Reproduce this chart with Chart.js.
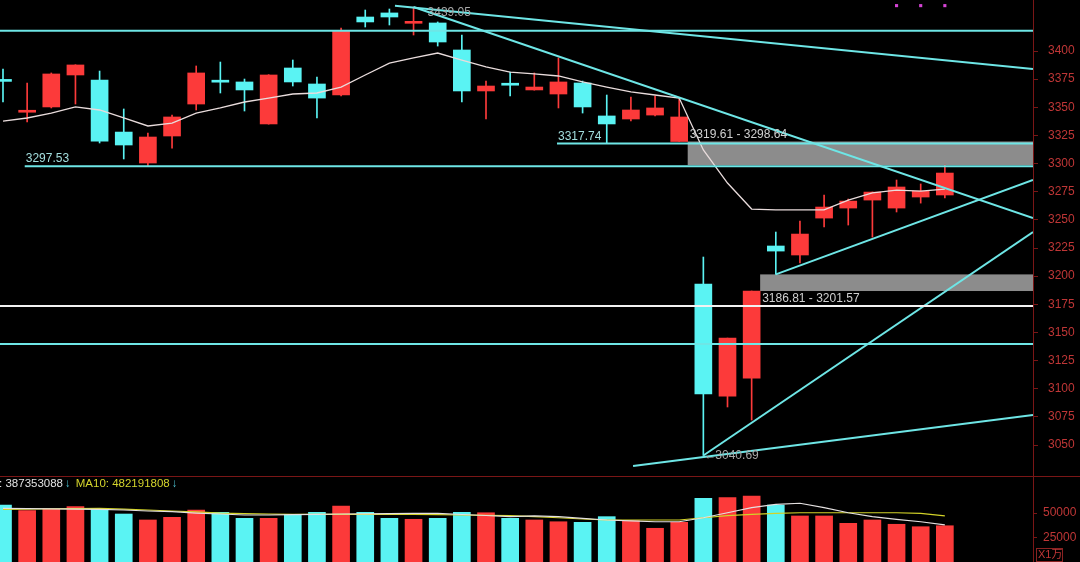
<!DOCTYPE html>
<html>
<head>
<meta charset="utf-8">
<script src="https://cdn.jsdelivr.net/npm/chart.js@4.4.1/dist/chart.umd.min.js"></script>
<style>
  html, body { margin: 0; padding: 0; background: #000; }
  #wrap { width: 1080px; height: 562px; position: relative; }
</style>
</head>
<body>
<div id="wrap"><canvas id="grafico"></canvas></div>
<script>
// ===== DADOS =====
const opens  = [3373.6, 3345.6, 3350.3, 3378.7, 3374.2, 3328.0, 3300.5, 3324.5, 3352.9, 3372.8,
                3372.5, 3335.2, 3384.9, 3370.7, 3360.9, 3430.2, 3433.8, 3424.6, 3424.9, 3400.9,
                3364.5, 3370.0, 3365.4, 3361.8, 3371.6, 3342.3, 3339.6, 3343.1, 3319.61, 3193.0,
                3093.5, 3109.5, 3226.8, 3218.8, 3251.6, 3260.5, 3267.6, 3260.5, 3270.3, 3272.1];
const highs  = [3384.0, 3371.6, 3380.5, 3387.8, 3382.2, 3348.5, 3327.2, 3343.1, 3386.7, 3390.2,
                3375.1, 3379.0, 3392.0, 3376.9, 3420.4, 3436.4, 3437.3, 3439.05, 3425.8, 3414.2,
                3373.3, 3381.3, 3380.5, 3393.8, 3373.3, 3360.9, 3359.1, 3360.0, 3357.4, 3217.0,
                3145.0, 3186.81, 3239.2, 3249.0, 3272.1, 3268.5, 3274.7, 3285.4, 3281.9, 3298.7];
const lows   = [3354.7, 3336.9, 3349.4, 3352.9, 3318.3, 3304.1, 3297.53, 3313.8, 3347.6, 3362.7,
                3346.7, 3335.0, 3368.9, 3340.5, 3360.0, 3421.3, 3423.1, 3414.2, 3404.4, 3354.7,
                3339.6, 3360.0, 3365.2, 3349.4, 3344.9, 3317.74, 3337.8, 3342.3, 3319.61, 3040.69,
                3083.8, 3072.2, 3201.57, 3211.7, 3243.7, 3245.4, 3234.7, 3257.0, 3264.9, 3269.4];
const closes = [3373.0, 3346.0, 3379.6, 3387.6, 3320.0, 3316.5, 3323.6, 3341.4, 3380.5, 3372.3,
                3365.4, 3378.7, 3372.5, 3358.2, 3417.8, 3425.8, 3430.2, 3425.1, 3408.0, 3364.5,
                3368.9, 3369.6, 3368.0, 3372.5, 3350.3, 3335.2, 3347.6, 3349.4, 3341.4, 3095.3,
                3145.0, 3186.81, 3222.3, 3237.4, 3261.4, 3266.7, 3274.7, 3279.2, 3275.6, 3291.6];
const priceMa = [3337.8, 3340.5, 3344.9, 3350.3, 3347.6, 3340.5, 3333.4, 3336.0, 3344.9, 3349.4,
                 3354.7, 3358.2, 3361.8, 3362.7, 3368.0, 3378.7, 3389.3, 3393.8, 3398.2, 3392.0,
                 3385.8, 3381.3, 3379.6, 3377.8, 3372.5, 3368.0, 3363.6, 3360.9, 3358.2, 3312.1,
                 3282.7, 3259.6, 3258.8, 3258.8, 3258.8, 3267.6, 3273.9, 3276.5, 3275.6, 3277.4];

const volumes = [58300, 52500, 54200, 56600, 55000, 49100, 43000, 45700, 53200, 50900,
                 44700, 44700, 48800, 50900, 57300, 50900, 44700, 43700, 44700, 50900,
                 50400, 44700, 43000, 41200, 40600, 46400, 42300, 34500, 40600, 65200,
                 65800, 67500, 58300, 47100, 47100, 39600, 43000, 38600, 36100, 37100];
const volMa5  = [54900, 54700, 54400, 54200, 53900, 53200, 52200, 51500, 50100, 49100,
                 48100, 48100, 48400, 48800, 49100, 49300, 49500, 49700, 49800, 48600,
                 47600, 46400, 47100, 46400, 44700, 43000, 42000, 41200, 41200, 45300,
                 50400, 55600, 59000, 60100, 55600, 50400, 46400, 43700, 41200, 37900];
const volMa10 = [53900, 54200, 54500, 54700, 54900, 54200, 53200, 52200, 51200, 50100,
                 49600, 49100, 48800, 48800, 48800, 48800, 48800, 48800, 48500, 48100,
                 47800, 47400, 46400, 45300, 44000, 43000, 43000, 43000, 43000, 45300,
                 47400, 48800, 49800, 50400, 50400, 50400, 50400, 50400, 49800, 47100];

const priceTicks = [3050, 3075, 3100, 3125, 3150, 3175, 3200, 3225, 3250, 3275, 3300, 3325, 3350, 3375, 3400];
const volTicks = [25000, 50000];

// linhas horizontais e de tendência (índice do candle, preço)
const fullCyanLevels = [3418.0, 3139.7];
const whiteLevel = 3173.5;
const markedLevels = [3297.53, 3317.74];
const markedFrom = [0.9, 22.94];
const trendLines = [
  [16.23, 3440.2, 42.65, 3384.0],
  [17, 3439.05, 42.65, 3251.6],
  [32, 3201.57, 42.65, 3285.4],
  [29, 3040.69, 42.65, 3239.2],
  [26.09, 3031.3, 42.65, 3076.6]
];
// gaps: candle onde começa, fundo, topo
const gapFrom = [28, 31];
const gapLow  = [3298.64, 3186.81];
const gapHigh = [3319.61, 3201.57];
const signalIdx = [37, 38, 39];
const signalLevel = 3440.3;

const volLegendMa5 = "MA5: 387353088";
const volLegendMa10 = "MA10: 482191808";

// ===== ESTILO =====
const RED = "#fc3a3a";
const CYAN = "#5af3f3";
const LINE_CYAN = "#6ee6e6";
const AXIS_RED = "#7a1616";
const LABEL_RED = "#bf3636";
const BODY = 17;
const FONT = "'Liberation Sans', 'Noto Sans CJK SC', sans-serif";

Chart.defaults.font.family = FONT;

const cores = opens.map((o, i) => closes[i] >= o ? RED : CYAN);

function segmento(x0, y0, x1, y1, color) {
  return {
    type: "line",
    data: [{ x: x0, y: y0 }, { x: x1, y: y1 }],
    borderColor: color,
    borderWidth: 2,
    pointRadius: 0,
    tension: 0,
    yAxisID: "y",
    order: 0,
  };
}

const datasets = [];

// velas
datasets.push({
  type: "bar",
  data: opens.map((o, i) => ({ x: i, y: [lows[i], highs[i]] })),
  backgroundColor: cores,
  barThickness: 1,
  grouped: false,
  yAxisID: "y",
  order: 5,
});
datasets.push({
  type: "bar",
  data: opens.map((o, i) => ({ x: i, y: [o, closes[i]] })),
  backgroundColor: cores,
  barThickness: BODY,
  minBarLength: 2,
  grouped: false,
  yAxisID: "y",
  order: 4,
});
datasets.push({
  type: "line",
  data: priceMa.map((v, i) => ({ x: i, y: v })),
  borderColor: "#e9dcdc",
  borderWidth: 1.3,
  pointRadius: 0,
  tension: 0,
  yAxisID: "y",
  order: 1,
});

// linhas desenhadas
fullCyanLevels.forEach(v => datasets.push(segmento(-1, v, 44, v, LINE_CYAN)));
datasets.push(segmento(-1, whiteLevel, 44, whiteLevel, "#f2f2f2"));
markedLevels.forEach((v, k) => datasets.push(segmento(markedFrom[k], v, 44, v, LINE_CYAN)));
trendLines.forEach(t => datasets.push(segmento(t[0], t[1], t[2], t[3], LINE_CYAN)));

datasets.push({
  type: "scatter",
  data: signalIdx.map(i => ({ x: i, y: signalLevel })),
  backgroundColor: "#d444d4",
  borderWidth: 0,
  pointStyle: "rect",
  pointRadius: 2.2,
  yAxisID: "y",
  order: 0,
});

// volume
datasets.push({
  type: "bar",
  data: volumes.map((v, i) => ({ x: i, y: v })),
  backgroundColor: cores,
  barThickness: BODY,
  grouped: false,
  yAxisID: "yv",
  order: 6,
});
datasets.push({
  type: "line",
  data: volMa5.map((v, i) => ({ x: i, y: v })),
  borderColor: "#e4e0e0",
  borderWidth: 1.2,
  pointRadius: 0,
  yAxisID: "yv",
  order: 2,
});
datasets.push({
  type: "line",
  data: volMa10.map((v, i) => ({ x: i, y: v })),
  borderColor: "#d2d228",
  borderWidth: 1.2,
  pointRadius: 0,
  yAxisID: "yv",
  order: 2,
});

// ===== PLUGIN DE ANOTAÇÕES =====
const anotacoes = {
  id: "anotacoes",
  beforeDatasetsDraw(chart) {
    const { ctx, chartArea, scales: { x, y } } = chart;
    ctx.save();
    ctx.fillStyle = "#8c8c8c";
    gapFrom.forEach((idx, k) => {
      const left = x.getPixelForValue(idx) + BODY / 2;
      const top = y.getPixelForValue(gapHigh[k]);
      const bottom = y.getPixelForValue(gapLow[k]);
      ctx.fillRect(left, top, chartArea.right - left, bottom - top);
    });
    ctx.restore();
  },
  afterDatasetsDraw(chart) {
    const { ctx, scales: { x, y, yv } } = chart;
    ctx.save();
    ctx.font = "12px " + FONT;
    ctx.textBaseline = "middle";
    ctx.textAlign = "left";

    // rótulos das linhas
    ctx.fillStyle = "#a3dede";
    ctx.fillText(markedLevels[0].toFixed(2), x.getPixelForValue(markedFrom[0]) + 1, y.getPixelForValue(markedLevels[0]) - 8);
    ctx.fillText(markedLevels[1].toFixed(2), x.getPixelForValue(markedFrom[1]) + 1, y.getPixelForValue(markedLevels[1]) - 7);

    ctx.fillStyle = "#d0d0d0";
    ctx.fillText(gapHigh[0].toFixed(2) + " - " + gapLow[0].toFixed(2),
      x.getPixelForValue(gapFrom[0]) + BODY / 2 + 2, y.getPixelForValue(gapHigh[0]) - 7);
    ctx.fillText(gapLow[1].toFixed(2) + " - " + gapHigh[1].toFixed(2),
      x.getPixelForValue(gapFrom[1]) + BODY / 2 + 2, y.getPixelForValue(gapLow[1]) + 8);

    ctx.fillStyle = "#a8a8a8";
    const topo = highs.indexOf(Math.max(...highs));
    ctx.fillText(highs[topo].toFixed(2), x.getPixelForValue(topo) + 14, y.getPixelForValue(highs[topo]) + 6);
    const fundo = lows.indexOf(Math.min(...lows));
    const fx = x.getPixelForValue(fundo), fy = y.getPixelForValue(lows[fundo]);
    ctx.fillText("\u2190", fx + 1, fy);
    ctx.fillText(lows[fundo].toFixed(2), fx + 12, fy);

    // divisória entre preço e volume
    ctx.strokeStyle = AXIS_RED;
    ctx.lineWidth = 1;
    ctx.beginPath();
    ctx.moveTo(0, yv.top + 0.5);
    ctx.lineTo(chart.width, yv.top + 0.5);
    ctx.stroke();

    // legenda do volume
    ctx.font = "11.5px " + FONT;
    const ly = yv.top + 8;
    let lx = 63 - ctx.measureText(volLegendMa5).width;
    ctx.fillStyle = "#e2e2e2";
    ctx.fillText(volLegendMa5, lx, ly);
    lx += ctx.measureText(volLegendMa5).width + 2;
    ctx.fillStyle = "#4fc8d8";
    ctx.fillText("\u2193", lx, ly);
    lx += ctx.measureText("\u2193").width + 5;
    ctx.fillStyle = "#d4d42c";
    ctx.fillText(volLegendMa10, lx, ly);
    lx += ctx.measureText(volLegendMa10).width + 2;
    ctx.fillStyle = "#4fc8d8";
    ctx.fillText("\u2193", lx, ly);

    // caixa da unidade
    const bx = yv.left + 3, by = yv.bottom - 14;
    ctx.strokeStyle = "#8a2222";
    ctx.strokeRect(bx + 0.5, by + 0.5, 26, 13);
    ctx.fillStyle = LABEL_RED;
    ctx.font = "11px " + FONT;
    ctx.fillText("X1\u4e07", bx + 2, by + 7);
    ctx.restore();
  }
};

function semFolga(s) {
  s.width = 47;
  s.paddingTop = 0;
  s.paddingBottom = 0;
  s.paddingLeft = 0;
  s.paddingRight = 0;
}

// ===== GRÁFICO =====
new Chart(document.getElementById("grafico"), {
  type: "bar",
  data: { datasets },
  options: {
    responsive: true,
    maintainAspectRatio: false,
    animation: false,
    layout: { padding: 0, autoPadding: false },
    plugins: { legend: { display: false }, tooltip: { enabled: false } },
    scales: {
      x: { type: "linear", display: false, min: -0.124, max: 42.65, offset: false },
      y: {
        position: "right",
        stack: "painel",
        stackWeight: 476,
        min: 3022.5,
        max: 3445.3,
        afterBuildTicks: s => { s.ticks = priceTicks.map(v => ({ value: v })); },
        afterFit: semFolga,
        grid: { drawOnChartArea: false, color: AXIS_RED, tickLength: 5 },
        border: { color: AXIS_RED },
        ticks: { color: LABEL_RED, autoSkip: false, padding: 10, font: { size: 12 }, callback: v => String(v) },
      },
      yv: {
        position: "right",
        stack: "painel",
        stackWeight: 86,
        min: 0,
        max: 88000,
        afterBuildTicks: s => { s.ticks = volTicks.map(v => ({ value: v })); },
        afterFit: semFolga,
        grid: { drawOnChartArea: false, color: AXIS_RED, tickLength: 4 },
        border: { color: AXIS_RED },
        ticks: { color: LABEL_RED, autoSkip: false, padding: 6, font: { size: 12 }, callback: v => String(v) },
      },
    },
  },
  plugins: [anotacoes],
});
</script>
</body>
</html>
